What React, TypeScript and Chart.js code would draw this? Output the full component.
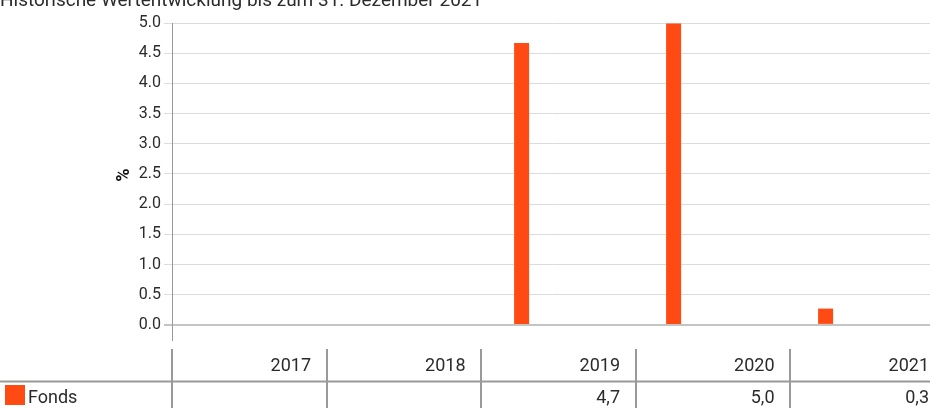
import React, { useEffect, useRef } from 'react';
import { Chart, registerables } from 'chart.js';

Chart.register(...registerables);

const chartTitle = 'Historische Wertentwicklung bis zum 31. Dezember 2021';
const years = ['2017', '2018', '2019', '2020', '2021'];
const fondsValues: (number | null)[] = [null, null, 4.67, 4.99, 0.27];
const placeholderValues: (number | null)[] = [null, null, null, null, null];
const tableValues = ['', '', '4,7', '5,0', '0,3'];
const yTicks = [0, 0.5, 1, 1.5, 2, 2.5, 3, 3.5, 4, 4.5, 5];
const seriesName = 'Fonds';
const yAxisLabel = '%';

const BAR_COLOR = '#FF4A14';
const TEXT_COLOR = '#2b2b2b';
const FONT = 'Roboto';

const overlayPlugin = {
  id: 'overlay',
  afterDraw(chart: any) {
    const ctx = chart.ctx as CanvasRenderingContext2D;
    ctx.save();
    // title (partly cut at top)
    ctx.fillStyle = TEXT_COLOR;
    ctx.font = `19px ${FONT}`;
    ctx.textAlign = 'left';
    ctx.textBaseline = 'alphabetic';
    ctx.fillText(chartTitle, 0, 6);

    // y axis label
    ctx.save();
    ctx.translate(124, 175);
    ctx.rotate(-Math.PI / 2);
    ctx.font = `bold 18px ${FONT}`;
    ctx.textAlign = 'center';
    ctx.textBaseline = 'middle';
    ctx.fillStyle = '#111';
    ctx.fillText(yAxisLabel, 0, 0);
    ctx.restore();

    // table
    const tableLeft = 172;
    const colW = 154.5;
    ctx.strokeStyle = '#999';
    ctx.lineWidth = 2;
    ctx.beginPath();
    ctx.moveTo(0, 381.5);
    ctx.lineTo(chart.width, 381.5);
    for (let i = 0; i < years.length; i++) {
      const x = Math.round(tableLeft + i * colW);
      ctx.moveTo(x, 349);
      ctx.lineTo(x, 408);
    }
    ctx.stroke();

    ctx.fillStyle = TEXT_COLOR;
    ctx.font = `18px ${FONT}`;
    ctx.textAlign = 'right';
    ctx.textBaseline = 'middle';
    years.forEach((y, i) => {
      const xr = tableLeft + (i + 1) * colW - 15.5;
      ctx.fillText(y, xr, 366);
      if (tableValues[i]) ctx.fillText(tableValues[i], xr, 398);
    });

    // legend
    ctx.fillStyle = BAR_COLOR;
    ctx.fillRect(5, 385, 20, 20);
    ctx.fillStyle = TEXT_COLOR;
    ctx.textAlign = 'left';
    ctx.fillText(seriesName, 28, 398);
    ctx.restore();
  },
};

export default function App() {
  const ref = useRef<HTMLCanvasElement>(null);
  useEffect(() => {
    if (!ref.current) return;
    const chart = new Chart(ref.current, {
      type: 'bar',
      data: {
        labels: years,
        datasets: [
          {
            label: seriesName,
            data: fondsValues,
            backgroundColor: BAR_COLOR,
            borderWidth: 0,
            categoryPercentage: 0.8,
            barPercentage: 0.2467,
          },
          {
            label: '',
            data: placeholderValues,
            backgroundColor: 'transparent',
            categoryPercentage: 0.8,
            barPercentage: 0.2467,
          },
        ],
      },
      options: {
        responsive: false,
        animation: false,
        devicePixelRatio: 1,
        layout: { padding: { left: 0, right: 14, top: 23, bottom: 68 } },
        plugins: {
          legend: { display: false },
          title: { display: false },
          tooltip: { enabled: false },
        },
        scales: {
          x: { display: false },
          y: {
            min: -0.25,
            max: 5,
            afterBuildTicks: (axis: any) => {
              axis.ticks = yTicks.map((v) => ({ value: v }));
            },
            afterFit: (axis: any) => {
              axis.width = 172;
            },
            border: { display: true, color: '#999', width: 1 },
            grid: {
              color: (c: any) => (c.tick && c.tick.value === 0 ? '#c4c4c4' : '#dcdcdc'),
              lineWidth: (c: any) => (c.tick && c.tick.value === 0 ? 2 : 1),
              tickLength: 8,
              drawTicks: true,
            },
            ticks: {
              color: TEXT_COLOR,
              font: { family: FONT, size: 16 },
              padding: 3,
              callback: (v: any) => Number(v).toFixed(1),
            },
          },
        },
      },
      plugins: [overlayPlugin],
    });
    return () => chart.destroy();
  }, []);
  return (
    <div style={{ position: 'absolute', left: 0, top: 0, width: 930, height: 408, overflow: 'hidden', background: '#fff' }}>
      <canvas ref={ref} width={946} height={408} style={{ display: 'block' }} />
    </div>
  );
}
